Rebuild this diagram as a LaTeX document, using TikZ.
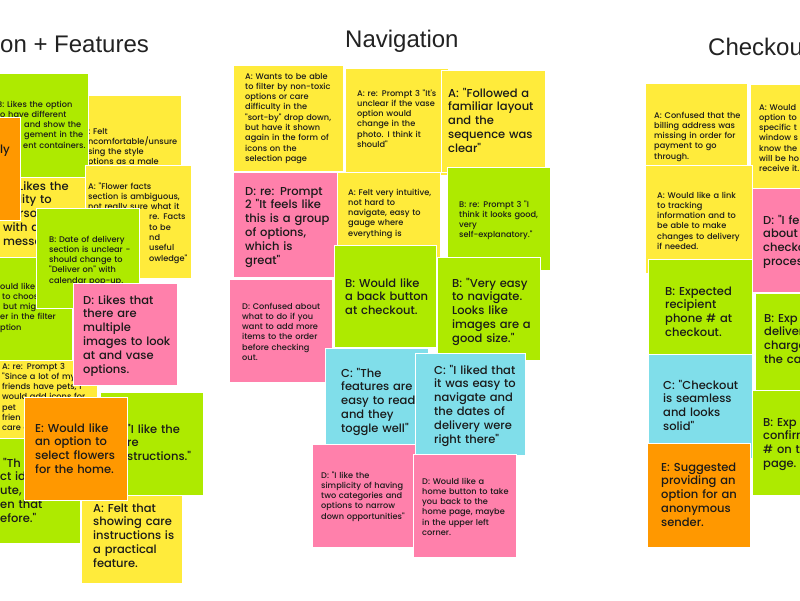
\documentclass[tikz,border=0pt]{standalone}
\usepackage{fontspec}
\newfontfamily\nf{Poppins Medium}
\newfontfamily\tf{Liberation Sans}
\definecolor{yel}{HTML}{FFEB3B}
\definecolor{grn}{HTML}{AEEA00}
\definecolor{pnk}{HTML}{FF80AB}
\definecolor{cyn}{HTML}{80DEEA}
\definecolor{org}{HTML}{FF9800}
\definecolor{ink}{HTML}{1A1A1A}
\definecolor{ttlc}{HTML}{222222}
\tikzset{
  pad/.style={draw=white, line width=0.7pt},
  sm/.style={inner sep=0pt, anchor=base west, align=left, text width=160pt, text=ink, font=\nf\fontsize{8.2}{10.3}\selectfont},
  bg/.style={inner sep=0pt, anchor=base west, align=left, text width=160pt, text=ink, font=\nf\fontsize{11.5}{13.9}\selectfont},
  ttl/.style={inner sep=0pt, anchor=base west, text=ttlc, font=\tf\fontsize{24}{28}\selectfont}
}
\begin{document}
\begin{tikzpicture}[x=1pt,y=-1pt]
\useasboundingbox (0,0) rectangle (800,600);
\clip (0,0) rectangle (800,600);
\fill[white] (0,0) rectangle (800,600);
% titles
\node[ttl] (t1) at (0,52) {on + Features};
\node[ttl] (t2) at (345,47) {Navigation};
\node[ttl] (t3) at (708,55) {Checkout};
% ---------------- left column
\fill[yel,pad] (60,95) rectangle (181,198);
\node[sm] (l4) at (82.5,134) {A: Felt\\ uncomfortable/unsure\\ using the style\\ options as a male};
\fill[yel,pad] (-40,165) rectangle (90,258);
\node[bg] (l3) at (3,190) {\hspace*{15pt}Likes the\\ \hspace*{16pt}lity to\\ \hspace*{16pt}rsonalize\\ with a\\ message};
\fill[grn,pad] (-20,73) rectangle (88,177);
\node[sm] (l1) at (-3,107) {B: Likes the option\\ to have different\\ \hspace*{27pt}and show the\\ \hspace*{27pt}gement in the\\ \hspace*{26pt}ent containers.};
\fill[org,pad] (-80,117) rectangle (20,220);
\node[bg] (l2) at (0,153) {ly};
\fill[yel,pad] (85,165) rectangle (191,278);
\node[sm] (l5) at (88,189) {A: "Flower facts\\ section is ambiguous,\\ not really sure what it\\ \hspace*{61pt}re. Facts\\ \hspace*{61pt}to be\\ \hspace*{61pt}nd\\ \hspace*{61pt}useful\\ \hspace*{61pt}owledge"};
\fill[grn,pad] (-40,257) rectangle (72,360);
\node[sm] (l7) at (0,289) {ould like\\ \hspace*{2pt}to choos\\ \hspace*{3pt}but mig\\ er in the filter\\ ption};
\fill[grn,pad] (36,208) rectangle (139,308);
\node[sm] (l6) at (49,242) {B: Date of delivery\\ section is unclear -\\ should change to\\ "Deliver on" with\\ calendar pop-up.};
\fill[yel,pad] (-10,360) rectangle (97,440);
\node[sm] (l9) at (2,369) {A: re: Prompt 3\\ "Since a lot of my\\ friends have pets, I\\ would add icons for\\ pet\\ frien\\ care c};
\fill[pnk,pad] (73,283) rectangle (177,385);
\node[bg] (l8) at (83,304) {D: Likes that\\ there are\\ multiple\\ images to look\\ at and vase\\ options.};
\fill[grn,pad] (-40,438) rectangle (80,543);
\node[bg] (l12) at (0,467) {\hspace*{3pt}"Th\\ ct id\\ ute, I\\ en that\\ efore."};
\fill[grn,pad] (100,392) rectangle (203,495);
\node[bg] (l10) at (127,433) {"I like the\\ re\\ structions."};
\fill[yel,pad] (81,495) rectangle (182,583);
\node[bg] (l13) at (93,512) {A: Felt that\\ showing care\\ instructions is\\ a practical\\ feature.};
\fill[org,pad] (24,397) rectangle (127,500);
\node[bg] (l11) at (35,432) {E: Would like\\ an option to\\ select flowers\\ for the home.};
% ---------------- middle column
\fill[yel,pad] (233,65) rectangle (343,171);
\node[sm] (n1) at (245,79) {A: Wants to be able\\ to filter by non-toxic\\ options or care\\ difficulty in the\\ "sort-by" drop down,\\ but have it shown\\ again in the form of\\ icons on the\\ selection page};
\fill[yel,pad] (345,68) rectangle (448,175);
\node[sm] (n2) at (357,96) {A: re: Prompt 3 "It's\\ unclear if the vase\\ option would\\ change in the\\ photo. I think it\\ should"};
\fill[yel,pad] (441,70) rectangle (545,172);
\node[bg] (n3) at (448,97) {A: "Followed a\\ familiar layout\\ and the\\ sequence was\\ clear"};
\fill[pnk,pad] (233,172) rectangle (337,277);
\node[bg] (n4) at (245,195) {D: re: Prompt\\ 2 "It feels like\\ this is a group\\ of options,\\ which is\\ great"};
\fill[yel,pad] (337,172) rectangle (440,275);
\node[sm] (n5) at (348,195) {A: Felt very intuitive,\\ not hard to\\ navigate, easy to\\ gauge where\\ everything is};
\fill[grn,pad] (447,167) rectangle (550,270);
\node[sm] (n6) at (459,207) {B: re: Prompt 3 "I\\ think it looks good,\\ very\\ self-explanatory."};
\fill[grn,pad] (334,245) rectangle (436,347);
\node[bg] (n7) at (345,287) {B: Would like\\ a back button\\ at checkout.};
\fill[grn,pad] (437,257) rectangle (540,360);
\node[bg] (n8) at (452,287) {B: "Very easy\\ to navigate.\\ Looks like\\ images are a\\ good size."};
\fill[pnk,pad] (229,279) rectangle (332,382);
\node[sm] (n9) at (242,309) {D: Confused about\\ what to do if you\\ want to add more\\ items to the order\\ before checking\\ out.};
\fill[cyn,pad] (325,348) rectangle (428,444);
\node[bg] (n10) at (341,377) {C: "The\\ features are\\ easy to read\\ and they\\ toggle well"};
\fill[cyn,pad] (415,353) rectangle (525,455);
\node[bg] (n11) at (434,374) {C: "I liked that\\ it was easy to\\ navigate and\\ the dates of\\ delivery were\\ right there"};
\fill[pnk,pad] (312,444) rectangle (415,547);
\node[sm] (n12) at (321,478) {D: "I like the\\ simplicity of having\\ two categories and\\ options to narrow\\ down opportunities"};
\fill[pnk,pad] (413,454) rectangle (516,557);
\node[sm] (n13) at (422,484) {D: Would like a\\ home button to take\\ you back to the\\ home page, maybe\\ in the upper left\\ corner.};
% ---------------- right column
\fill[yel,pad] (645,83) rectangle (747,190);
\node[sm] (r1) at (654,118) {A: Confused that the\\ billing address was\\ missing in order for\\ payment to go\\ through.};
\fill[yel,pad] (750,84) rectangle (860,195);
\node[sm] (r2) at (759,110) {A: Would\\ option to\\ specific t\\ window s\\ know the\\ will be ho\\ receive it.};
\fill[yel,pad] (645,165) rectangle (752,273);
\node[sm] (r3) at (657,198) {A: Would like a link\\ to tracking\\ information and to\\ be able to make\\ changes to delivery\\ if needed.};
\fill[pnk,pad] (752,188) rectangle (860,292);
\node[bg] (r4) at (763,224) {D: "I fe\\ about\\ checko\\ proces};
\fill[grn,pad] (648,259) rectangle (752,354);
\node[bg] (r5) at (665,295) {B: Expected\\ recipient\\ phone \# at\\ checkout.};
\fill[grn,pad] (755,293) rectangle (860,398);
\node[bg] (r6) at (764,322) {B: Exp\\ deliver\\ charge\\ the ca};
\fill[cyn,pad] (648,354) rectangle (752,458);
\node[bg] (r7) at (663,389) {C: "Checkout\\ is seamless\\ and looks\\ solid"};
\fill[grn,pad] (752,390) rectangle (860,495);
\node[bg] (r8) at (763,426) {B: Exp\\ confirm\\ \# on th\\ page.};
\fill[org,pad] (647,443) rectangle (750,547);
\node[bg] (r9) at (661,471) {E: Suggested\\ providing an\\ option for an\\ anonymous\\ sender.};
\end{tikzpicture}
\end{document}
